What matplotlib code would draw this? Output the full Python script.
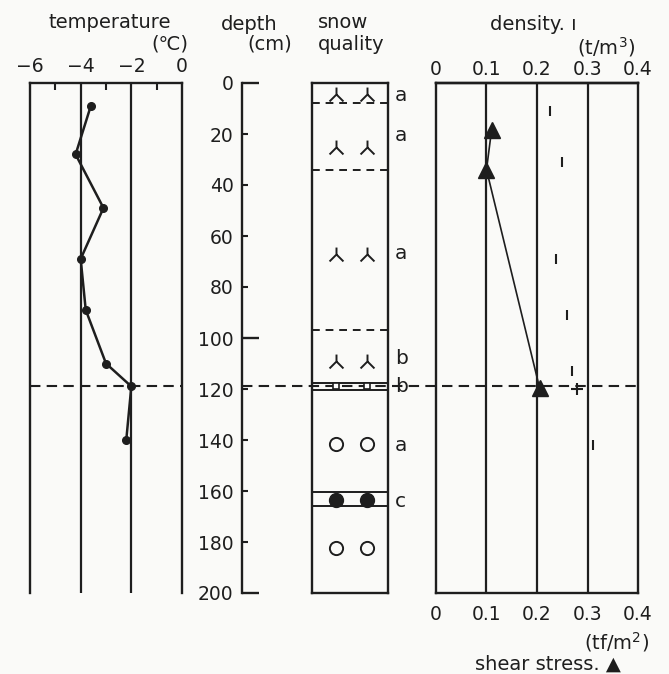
import matplotlib.pyplot as plt
from matplotlib.path import Path
from matplotlib.transforms import blended_transform_factory

plt.rcParams['font.family'] = ['DejaVu Sans']

# temperature profile
temp_depth = [9, 28, 49, 69, 89, 110, 119, 140]
temp = [-3.6, -4.2, -3.1, -4.0, -3.8, -3.0, -2.0, -2.2]
temp_ticks = [-6, -4, -2, 0]

# depth axis
depth_major = [0, 100, 200]
depth_minor = [20, 40, 60, 80, 120, 140, 160, 180]
weak_layer = 119

# snow quality column
dashed_bounds = [8, 34, 97]
solid_bounds = [117.5, 120.5, 160.5, 166]
lambda_depth = [4.5, 25, 67, 109]
square_depth = [119]
open_circle_depth = [141.5, 182.5]
filled_circle_depth = [163.5]
quality_depth = [4.8, 20.5, 66.7, 108, 119, 142, 164]
quality = ['a', 'a', 'a', 'b', 'b', 'a', 'c']

# density and shear stress
dens_depth = [11, 31, 69, 91, 113, 142]
density = [0.225, 0.25, 0.238, 0.26, 0.27, 0.31]
plus_depth = [120]
plus_val = [0.279]
shear_depth = [18.5, 34, 119.5]
shear = [0.11, 0.10, 0.205]
r_ticks = [0, 0.1, 0.2, 0.3, 0.4]
r_labels = ['0', '0.1', '0.2', '0.3', '0.4']

ink = '#1e1e1e'
bg = '#fafaf8'
W, H = 669, 674
fig = plt.figure(figsize=(W / 100, H / 100), dpi=100, facecolor=bg)
tick_fs = 13.5


def px_axes(x0, x1, y0, y1, **kw):
    ax = fig.add_axes([x0 / W, 1 - y1 / H, (x1 - x0) / W, (y1 - y0) / H], **kw)
    ax.set_facecolor('none')
    ax.set_ylim(200, 0)
    for s in ax.spines.values():
        s.set_linewidth(1.7)
        s.set_color(ink)
    return ax


def ftext(x, y, s, **kw):
    fig.text(x / W, 1 - y / H, s, color=ink, fontsize=14, va='center', **kw)


dash = (0, (5, 3))

# depth axis (drawn first, carries the weak-layer dashed line)
ax_d = px_axes(242, 638, 83, 593, zorder=0)
for s in ['top', 'right', 'bottom']:
    ax_d.spines[s].set_visible(False)
ax_d.set_xlim(0, 1)
ax_d.set_xticks([])
ax_d.set_yticks(depth_major)
ax_d.set_yticks(depth_minor, labels=[str(d) for d in depth_minor], minor=True)
ax_d.tick_params(axis='y', which='major', direction='in', length=12, width=1.7,
                 pad=6, labelsize=tick_fs, colors=ink)
ax_d.tick_params(axis='y', which='minor', direction='in', length=4, width=1.5,
                 pad=6, labelsize=tick_fs, colors=ink)
ax_d.axhline(weak_layer, ls=dash, color=ink, lw=1.5)

# temperature panel
ax_t = px_axes(30, 182, 83, 593)
ax_t.spines['bottom'].set_visible(False)
ax_t.set_xlim(-6, 0)
ax_t.xaxis.tick_top()
ax_t.set_xticks(temp_ticks)
ax_t.set_xticks([-5, -3, -1], minor=True)
ax_t.tick_params(axis='x', which='major', length=0, pad=5, labelsize=tick_fs, colors=ink)
ax_t.tick_params(axis='x', which='minor', direction='in', length=5, width=1.5, colors=ink)
ax_t.set_yticks([])
for v in [-4, -2]:
    ax_t.axvline(v, color=ink, lw=1.6)
ax_t.axhline(weak_layer, ls=dash, color=ink, lw=1.5)
ax_t.plot(temp, temp_depth, '-o', color=ink, lw=1.8, ms=5.5)

# snow quality column
ax_s = px_axes(312, 388, 83, 593)
ax_s.set_xlim(0, 1)
ax_s.set_xticks([])
ax_s.set_yticks([])
for d in dashed_bounds:
    ax_s.axhline(d, ls=(0, (4, 3)), color=ink, lw=1.4)
for d in solid_bounds:
    ax_s.axhline(d, color=ink, lw=1.4)
lam = Path([(0, 1), (0, 0), (-1, -1), (0, 0), (1, -1)],
           [Path.MOVETO, Path.LINETO, Path.LINETO, Path.MOVETO, Path.LINETO])
sym_x = [0.31, 0.72]
for d in lambda_depth:
    ax_s.plot(sym_x, [d, d], ls='none', marker=lam, ms=10, mfc='none', mec=ink, mew=1.4)
for d in square_depth:
    ax_s.plot(sym_x, [d, d], ls='none', marker='s', ms=4, mfc='white', mec=ink, mew=1.2)
for d in open_circle_depth:
    ax_s.plot(sym_x, [d, d], ls='none', marker='o', ms=9.5, mfc='none', mec=ink, mew=1.4)
for d in filled_circle_depth:
    ax_s.plot(sym_x, [d, d], ls='none', marker='o', ms=10, mfc=ink, mec=ink)
tr = blended_transform_factory(ax_s.transAxes, ax_s.transData)
for d, q in zip(quality_depth, quality):
    ax_s.text(1.09, d, q, transform=tr, ha='left', va='center', fontsize=14.5, color=ink)

# density / shear stress panel
ax_r = px_axes(436, 638, 83, 593)
ax_r.set_xlim(0, 0.4)
ax_r.set_yticks([])
ax_r.set_xticks(r_ticks, labels=r_labels)
ax_r.tick_params(axis='x', length=0, pad=9, labelsize=tick_fs, colors=ink)
top = ax_r.secondary_xaxis('top')
top.set_xticks(r_ticks, labels=r_labels)
top.tick_params(axis='x', length=0, pad=3, labelsize=tick_fs, colors=ink)
top.spines['top'].set_linewidth(1.7)
for v in [0.1, 0.2, 0.3]:
    ax_r.axvline(v, color=ink, lw=1.6)
ax_r.plot(density, dens_depth, ls='none', marker='|', ms=7, mew=1.5, color=ink)
ax_r.plot(plus_val, plus_depth, ls='none', marker='+', ms=8, mew=1.5, color=ink)
ax_r.plot(shear, shear_depth, '-^', color=ink, lw=1.2, ms=11)

# headings
ftext(110, 22, 'temperature', ha='center')
ftext(170, 44, '(℃)', ha='center')
ftext(249, 24, 'depth', ha='center')
ftext(270, 44, '(cm)', ha='center')
ftext(318, 22, 'snow', ha='left')
ftext(318, 44, 'quality', ha='left')
ftext(533, 24, 'density. ı', ha='center')
ftext(606, 47, '(t/m$^3$)', ha='center')
ftext(617, 642, '(tf/m$^2$)', ha='center')
ftext(548, 664, 'shear stress. ▲', ha='center')

fig.savefig('out.png', dpi=100, facecolor=bg)
